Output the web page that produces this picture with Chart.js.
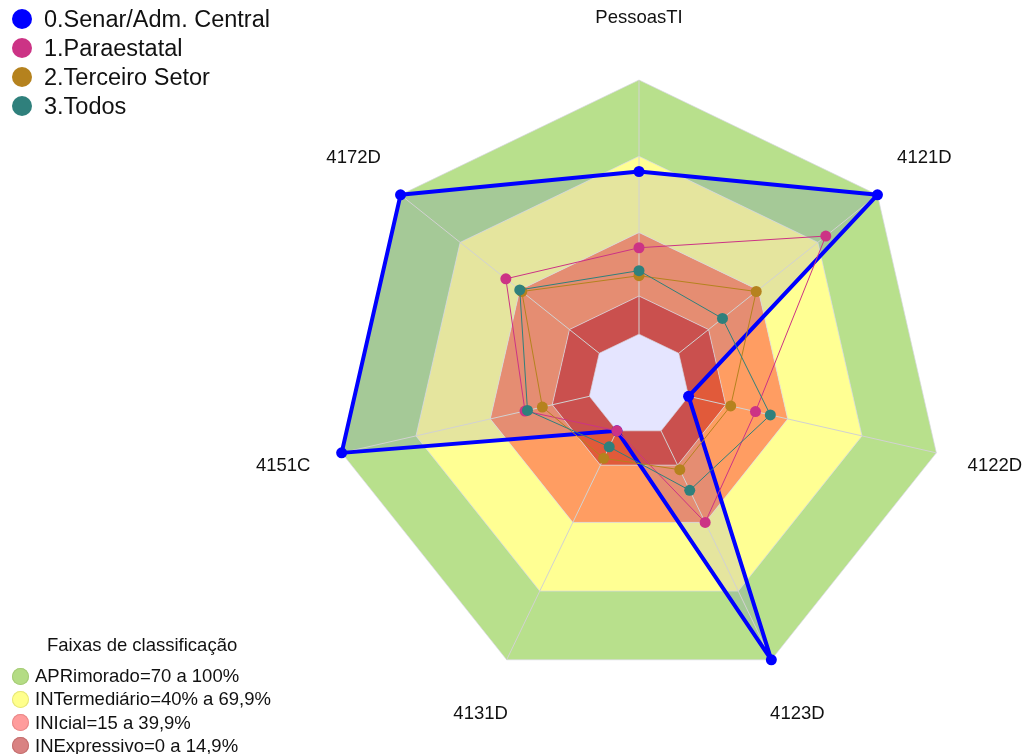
<!DOCTYPE html>
<html>
<head>
<meta charset="utf-8">
<title>Radar - faixas de classificação</title>
<script src="https://cdn.jsdelivr.net/npm/chart.js@4.4.1/dist/chart.umd.min.js"></script>
<style>
  body { margin: 0; background: #fff; font-family: "Liberation Sans", Arial, sans-serif; }
  #wrap { position: relative; width: 1026px; height: 754px; }
  .legend { position: absolute; left: 0; color: #111; }
  .legend .item { position: absolute; left: 0; white-space: nowrap; }
  .legend .dot { position: absolute; border-radius: 50%; }
  #seriesLegend { top: 0; font-size: 23.5px; }
  #bandLegend { top: 0; font-size: 18.5px; }
</style>
</head>
<body>
<div id="wrap">
  <canvas id="radar" width="1026" height="754"></canvas>
  <div id="seriesLegend" class="legend"></div>
  <div id="bandLegend" class="legend"></div>
</div>
<script>
// eixos
const labels = ['PessoasTI', '4121D', '4122D', '4123D', '4131D', '4151C', '4172D'];

// séries (em %)
const seriesNames = ['0.Senar/Adm. Central', '1.Paraestatal', '2.Terceiro Setor', '3.Todos'];
const senar = [64, 100, 0, 100, 0, 100, 100];
const paraestatal = [34, 74, 27, 40, 0, 26, 47];
const terceiro = [23, 39, 17, 17, 12, 19, 39];
const todos = [25, 22, 33, 26, 7, 25, 40];
const seriesColors = ['#0000ff', '#cc3385', '#b5821e', '#2f807c'];

// faixas de classificação
const bandNames = ['APRimorado=70 a 100%', 'INTermediário=40% a 69,9%', 'INIcial=15 a 39,9%', 'INExpressivo=0 a 14,9%'];
const bandUpper = [100, 70, 40, 15];
const bandLower = [70, 40, 15, 0];
const bandColors = ['#b8e08c', '#ffff93', '#ff9d62', '#e15a3a'];
const bandLegendColors = ['#b4dc84', '#ffff8c', '#ff9c9c', '#d98282'];
const gridValues = [0, 15, 40, 70, 100];

const seriesData = [senar, paraestatal, terceiro, todos];

const datasets = [];
// ordem de desenho: Todos por cima, Senar por baixo
seriesData.forEach((values, i) => {
  const isMain = i === 0;
  datasets.push({
    label: seriesNames[i],
    data: values,
    borderColor: seriesColors[i],
    backgroundColor: isMain ? 'rgba(0,0,255,0.1)' : seriesColors[i],
    pointBackgroundColor: seriesColors[i],
    pointBorderColor: seriesColors[i],
    pointBorderWidth: 0,
    pointRadius: 5.5,
    borderWidth: isMain ? 4 : 1,
    borderJoinStyle: 'round',
    fill: isMain ? 'start' : false,
    order: 3 - i
  });
});
bandUpper.forEach((top, i) => {
  datasets.push({
    label: bandNames[i],
    data: labels.map(() => top),
    backgroundColor: bandColors[i],
    borderWidth: 0,
    pointRadius: 0,
    fill: { value: bandLower[i] },
    order: 10 + i
  });
});

// raios a partir do valor 0 (o centro fica vazio)
const spokes = {
  id: 'spokes',
  beforeDatasetsDraw(chart) {
    const s = chart.scales.r;
    const ctx = chart.ctx;
    const r0 = s.getDistanceFromCenterForValue(0);
    const r1 = s.getDistanceFromCenterForValue(100);
    ctx.save();
    ctx.strokeStyle = '#d2d2d2';
    ctx.lineWidth = 1;
    ctx.beginPath();
    labels.forEach((l, i) => {
      const a = s.getPointPosition(i, r0);
      const b = s.getPointPosition(i, r1);
      ctx.moveTo(a.x, a.y);
      ctx.lineTo(b.x, b.y);
    });
    ctx.stroke();
    ctx.restore();
  }
};

// rótulos dos eixos
const axisLabels = {
  id: 'axisLabels',
  afterDraw(chart) {
    const s = chart.scales.r;
    const ctx = chart.ctx;
    ctx.save();
    ctx.font = '18.5px "Liberation Sans", Arial, sans-serif';
    ctx.fillStyle = '#111';
    ctx.textAlign = 'center';
    ctx.textBaseline = 'middle';
    labels.forEach((l, i) => {
      const p = s.getPointPosition(i, s.drawingArea + (i === 0 ? 62 : 60));
      ctx.fillText(l, p.x, p.y);
    });
    ctx.restore();
  }
};

new Chart(document.getElementById('radar'), {
  type: 'radar',
  data: { labels: labels, datasets: datasets },
  options: {
    responsive: false,
    animation: false,
    layout: { padding: { top: 80, bottom: 63, left: 334, right: 82 } },
    elements: { line: { tension: 0 } },
    plugins: {
      legend: { display: false },
      tooltip: { enabled: false },
      filler: { drawTime: 'beforeDraw' }
    },
    scales: {
      r: {
        min: -20,
        max: 100,
        afterBuildTicks: (scale) => { scale.ticks = gridValues.map(v => ({ value: v })); },
        ticks: { display: false },
        pointLabels: { display: false },
        angleLines: { display: false },
        grid: { color: 'rgba(215,215,225,0.7)', lineWidth: 1 }
      }
    }
  },
  plugins: [spokes, axisLabels]
});

// legendas em HTML
function addItem(box, text, color, border, cx, cy, r, textX) {
  const dot = document.createElement('div');
  dot.className = 'dot';
  dot.style.left = (cx - r) + 'px';
  dot.style.top = (cy - r) + 'px';
  dot.style.width = (2 * r) + 'px';
  dot.style.height = (2 * r) + 'px';
  dot.style.background = color;
  if (border) dot.style.boxShadow = 'inset 0 0 0 1px ' + border;
  box.appendChild(dot);
  const t = document.createElement('div');
  t.className = 'item';
  t.textContent = text;
  t.style.left = textX + 'px';
  t.style.top = cy + 'px';
  t.style.transform = 'translateY(-50%)';
  box.appendChild(t);
}

const sl = document.getElementById('seriesLegend');
seriesNames.forEach((n, i) => addItem(sl, n, seriesColors[i], null, 22, 19 + i * 29, 10, 44));

const bl = document.getElementById('bandLegend');
const title = document.createElement('div');
title.className = 'item';
title.textContent = 'Faixas de classificação';
title.style.left = '47px';
title.style.top = '645px';
title.style.transform = 'translateY(-50%)';
bl.appendChild(title);
const bandBorders = ['#a6cc78', '#e6e67a', '#e88a8a', '#c47070'];
bandNames.forEach((n, i) => addItem(bl, n, bandLegendColors[i], bandBorders[i], 20, 676 + i * 23.3, 8.5, 35));
</script>
</body>
</html>
